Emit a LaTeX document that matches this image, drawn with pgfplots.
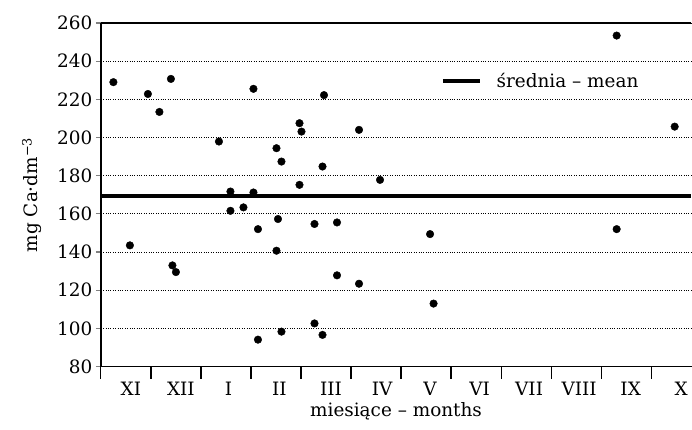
\documentclass[border=0pt]{standalone}
\usepackage{fontspec}
\setmainfont{DejaVu Serif}
\usepackage{pgfplots}
\pgfplotsset{compat=1.18}

\pgfplotstableread{
x y
0.25 229.0
0.94 222.8
1.17 213.4
1.40 230.7
3.05 225.5
4.46 222.2
2.36 197.9
3.51 194.4
3.61 187.4
3.97 207.5
4.01 203.1
4.43 184.8
3.97 175.2
2.59 171.7
3.05 171.2
2.59 161.6
2.85 163.4
10.31 253.4
5.16 204.0
11.47 205.7
5.58 177.8
0.58 143.5
1.43 133.0
1.50 129.5
3.14 152.0
3.54 157.3
3.51 140.7
4.27 154.7
4.72 155.5
4.72 127.8
3.14 94.1
3.61 98.3
4.27 102.6
4.43 96.6
5.16 123.4
6.58 149.4
6.65 113.0
10.31 152.0
}\calcium

\def\chartfont{\fontsize{18.5}{22}\selectfont}

\begin{document}
\begin{tikzpicture}
\begin{axis}[
  scale only axis,
  width=591bp, height=344bp,
  xmin=0, xmax=11.8,
  ymin=80, ymax=260,
  axis x line=box,
  axis y line*=left,
  axis line style={line width=1.6bp},
  tick label style={font=\chartfont},
  label style={font=\chartfont},
  xtick={0.6,1.6,2.55,3.57,4.6,5.62,6.58,7.57,8.56,9.56,10.59,11.6},
  xticklabels={XI,XII,I,II,III,IV,V,VI,VII,VIII,IX,X},
  minor xtick={0,1,...,11},
  xtick pos=bottom,
  x tick style={draw=none},
  minor x tick style={draw=black, line width=1.2bp},
  minor tick length=12bp,
  xticklabel style={anchor=base, yshift=-24bp},
  ytick={80,100,...,260},
  ytick pos=left,
  y tick style={line width=1.2bp},
  major tick length=5bp,
  tick align=outside,
  ymajorgrids,
  grid style={black, dotted, line width=0.9bp},
  xlabel={miesiące – months},
  xlabel style={at={(axis description cs:0.5,0)}, anchor=base, yshift=-50bp},
  ylabel={mg Ca·dm\textsuperscript{−3}},
  ylabel style={at={(axis description cs:-0.1066,0.5)}, anchor=base},
  /pgf/number format/assume math mode=true,
  legend style={draw=none, fill=none, at={(axis cs:6.7,229.6)}, anchor=west,
    font=\chartfont},
  legend image code/.code={\draw[#1] (0bp,0bp) -- (37bp,0bp); \path (-2bp,0bp) (50bp,0bp);},
]
\addplot[black, line width=3.5bp] coordinates {(0,169.4) (11.8,169.4)};
\addlegendentry{średnia – mean}
\addplot[only marks, mark=*, mark size=3.8bp, black, forget plot] table {\calcium};
\end{axis}
\path (current axis.south west) ++(-101bp,-63bp);
\path (current axis.north east) ++(0bp,23bp);
\end{tikzpicture}
\end{document}
